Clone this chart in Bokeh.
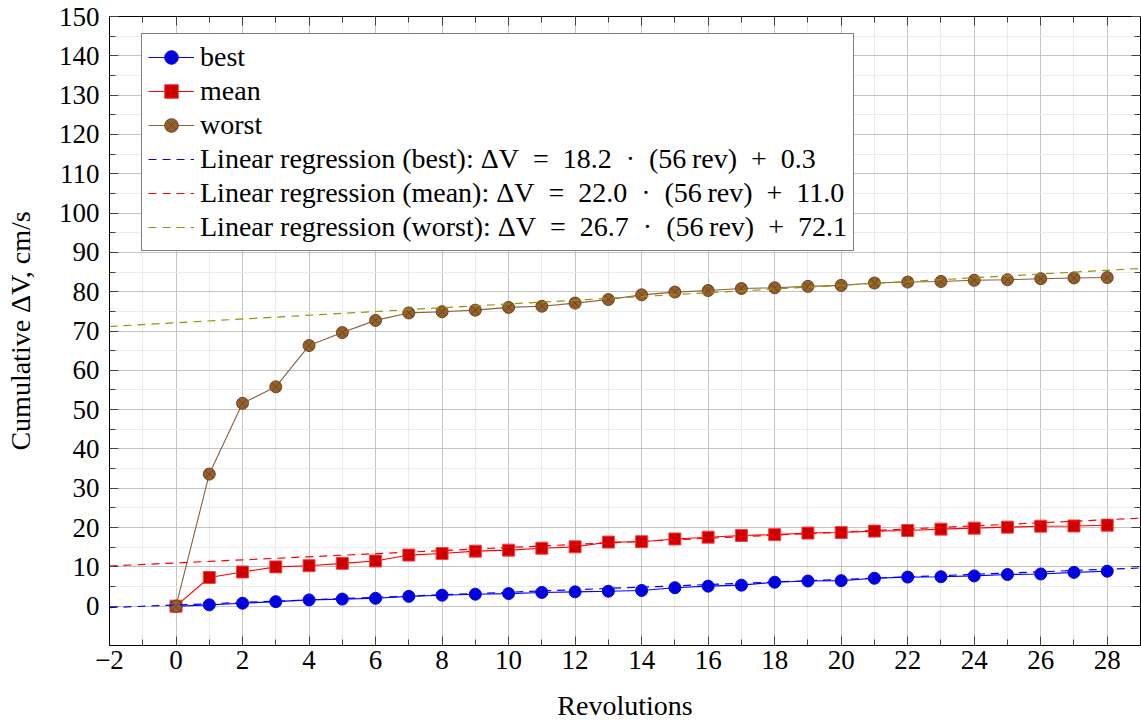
from bokeh.plotting import figure
from bokeh.models import (Range1d, FixedTicker, LinearAxis, Legend, LegendItem)
from bokeh.embed import file_html
from bokeh.resources import INLINE

# ---------------- data ----------------
revs = list(range(29))
best = [0, 0.34, 0.76, 1.15, 1.6, 1.8, 2.0, 2.5, 2.8, 3.05, 3.2, 3.5, 3.65, 3.8, 4.0,
        4.7, 5.1, 5.35, 6.1, 6.4, 6.5, 7.1, 7.4, 7.5, 7.7, 8.05, 8.2, 8.6, 8.9]
mean = [0, 7.3, 8.7, 10.0, 10.3, 10.9, 11.5, 13.0, 13.4, 14.0, 14.25, 14.75, 15.1, 16.3, 16.4,
        17.1, 17.55, 18.0, 18.2, 18.6, 18.75, 19.1, 19.25, 19.6, 19.85, 20.1, 20.35, 20.4, 20.6]
worst = [0, 33.6, 51.6, 55.8, 66.3, 69.6, 72.7, 74.6, 74.9, 75.3, 76.0, 76.3, 77.1, 78.0, 79.2,
         79.9, 80.3, 80.8, 81.0, 81.35, 81.6, 82.2, 82.45, 82.6, 82.9, 83.05, 83.3, 83.5, 83.6]

# regression: dV = slope * (x / 56) + intercept
reg_names = ["best", "mean", "worst"]
reg_slope = [18.2, 22.0, 26.7]
reg_intercept = [0.3, 11.0, 72.1]
rev_period = 56

x_ticks = list(range(-2, 29, 2))
x_minor = list(range(-2, 30, 1))
y_ticks = list(range(0, 151, 10))
y_minor = list(range(0, 151, 5))
x_lim = (-2, 29)
y_lim = (-10, 150)

# ---------------- figure ----------------
FONT = "Liberation Serif"
p = figure(width=1141, height=723, x_range=Range1d(*x_lim), y_range=Range1d(*y_lim),
           output_backend="svg", toolbar_location=None,
           min_border_left=109, min_border_right=1, min_border_top=16, min_border_bottom=78)
p.background_fill_color = "white"
p.border_fill_color = "white"
p.outline_line_color = "black"
p.outline_line_width = 1

# extra axes (ticks only) on top and right
p.add_layout(LinearAxis(), "right")
p.add_layout(LinearAxis(), "above")

for ax in p.xaxis:
    ax.ticker = FixedTicker(ticks=x_ticks, minor_ticks=x_minor)
for ax in p.yaxis:
    ax.ticker = FixedTicker(ticks=y_ticks, minor_ticks=y_minor)

for ax in list(p.xaxis) + list(p.yaxis):
    ax.major_tick_in = 9
    ax.major_tick_out = 0
    ax.minor_tick_in = 6
    ax.minor_tick_out = 0
    ax.major_tick_line_color = "#444444"
    ax.minor_tick_line_color = "#444444"
    ax.axis_line_color = "black"
    ax.major_label_text_font = FONT
    ax.major_label_text_font_size = "27px"
    ax.major_label_text_color = "black"

# no labels on the top/right axes (ticks only)
for ax in (p.right[0], p.above[0]):
    ax.major_label_text_color = None
    ax.major_label_text_font_size = "1px"
    ax.major_label_standoff = 0

p.below[0].major_label_overrides = {-2: "\u22122"}
p.below[0].major_label_standoff = 5
p.left[0].major_label_standoff = 10
p.below[0].axis_label = "Revolutions"
p.left[0].axis_label = "Cumulative \u0394V, cm/s"
for ax in (p.below[0], p.left[0]):
    ax.axis_label_text_font = FONT
    ax.axis_label_text_font_size = "28px"
    ax.axis_label_text_font_style = "normal"
    ax.axis_label_text_color = "black"
p.below[0].axis_label_standoff = 18
p.left[0].axis_label_standoff = 20

p.xgrid.grid_line_color = "#c4c4c4"
p.ygrid.grid_line_color = "#c4c4c4"
p.xgrid.minor_grid_line_color = "#ebebeb"
p.ygrid.minor_grid_line_color = "#ebebeb"
p.xgrid.grid_line_width = 1
p.ygrid.grid_line_width = 1

# ---------------- series ----------------
LW = 1.1
l_best = p.line(revs, best, line_color="#0000ff", line_width=LW)
s_best = p.scatter(revs, best, marker="circle", size=12, fill_color="#0000d8",
                   line_color="#0000ff", line_width=1)
l_mean = p.line(revs, mean, line_color="#ff0000", line_width=LW)
s_mean = p.scatter(revs, mean, marker="square", size=12, fill_color="#cc0000",
                   line_color="#ff4040", line_width=1)
l_worst = p.line(revs, worst, line_color="#8b5e3c", line_width=LW)
s_worst = p.scatter(revs, worst, marker="circle_x", size=12, fill_color="#94602e",
                    line_color="#6e4520", line_width=1)

reg_colors = ["#0000ff", "#ff0000", "#9a9300"]
reg_renderers = []
for name, a, b, c in zip(reg_names, reg_slope, reg_intercept, reg_colors):
    xs = list(x_lim)
    ys = [a * x / rev_period + b for x in xs]
    r = p.line(xs, ys, line_color=c, line_width=1.2, line_dash="8 6")
    reg_renderers.append(r)

SP = "\u2002"
items = [
    LegendItem(label="best", renderers=[l_best, s_best]),
    LegendItem(label="mean", renderers=[l_mean, s_mean]),
    LegendItem(label="worst", renderers=[l_worst, s_worst]),
]
for name, a, b, r in zip(reg_names, reg_slope, reg_intercept, reg_renderers):
    items.append(LegendItem(
        label=f"Linear regression ({name}): \u0394V{SP}={SP}{a:.1f}{SP}\u00b7{SP}(56\u2009rev){SP}+{SP}{b:.1f}",
        renderers=[r]))

legend = Legend(items=items, location=(32, 394))
legend.label_text_font = FONT
legend.label_text_font_size = "28px"
legend.label_text_color = "black"
legend.glyph_width = 46
legend.glyph_height = 34
legend.label_height = 34
legend.label_standoff = 6
legend.spacing = 0
legend.padding = 6
legend.margin = 0
legend.border_line_color = "black"
legend.border_line_width = 1
legend.background_fill_color = "white"
legend.background_fill_alpha = 1.0
p.add_layout(legend, "center")

open("out.html", "w").write(file_html(p, INLINE))
